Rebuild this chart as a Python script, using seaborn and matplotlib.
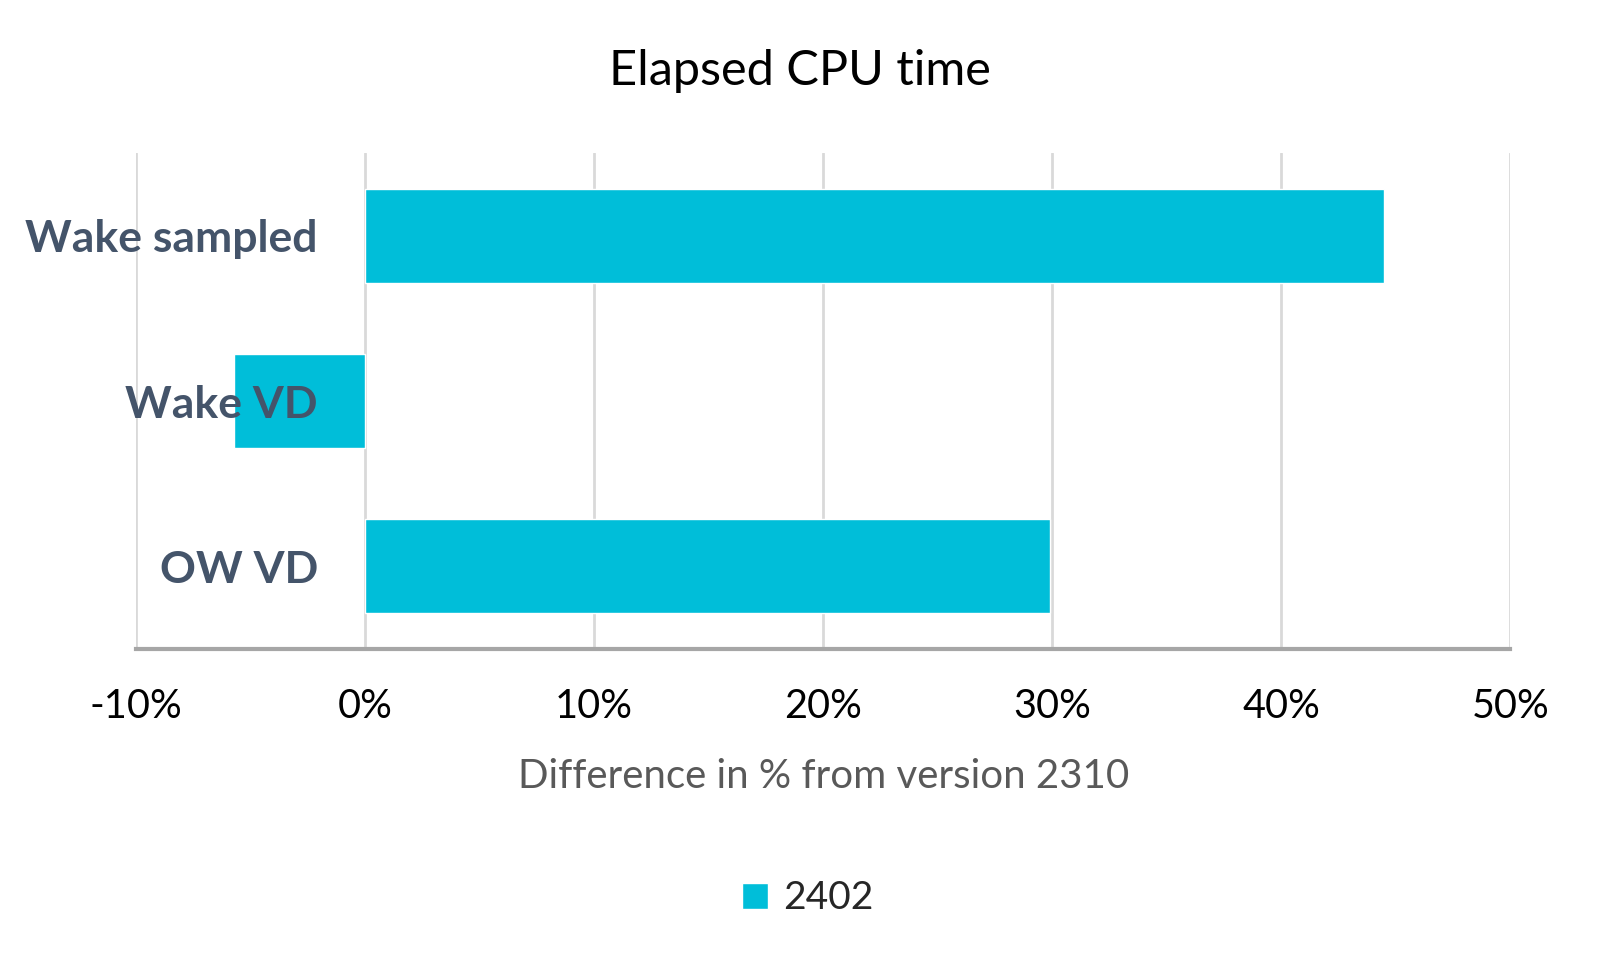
import pandas as pd
import seaborn as sns
import matplotlib.pyplot as plt
from matplotlib.ticker import FuncFormatter

categories = ["Wake sampled", "Wake VD", "OW VD"]
values = [44.5, -5.7, 29.9]
series_name = "2402"
x_ticks = [-10, 0, 10, 20, 30, 40, 50]

df = pd.DataFrame({"case": categories, "diff": values})

sns.set_theme(style="white")
plt.rcParams["font.family"] = ["Lato", "DejaVu Sans"]

fig = plt.figure(figsize=(16, 9.64), dpi=100)
ax = fig.add_axes([0.085, 0.327, 0.859, 0.514])

sns.barplot(data=df, x="diff", y="case", orient="h", color="#00BED9",
            width=0.57, saturation=1, label=series_name, ax=ax)

ax.set_xlim(-10, 50)
ax.set_ylim(2.5, -0.5)
ax.set_xticks(x_ticks)
ax.xaxis.set_major_formatter(FuncFormatter(lambda v, p: f"{v:.0f}%"))
ax.grid(axis="x", color="#D9D9D9", linewidth=2)
ax.set_axisbelow(True)
# y labels sit on top of the bars, like the original
ax.yaxis.set_zorder(3)
for s in ["top", "left", "right"]:
    ax.spines[s].set_visible(False)
ax.spines["bottom"].set_color("#A6A6A6")
ax.spines["bottom"].set_linewidth(3)

ax.tick_params(axis="x", length=0, pad=28, labelsize=28.5, labelcolor="black")
ax.tick_params(axis="y", length=0, pad=-131, labelsize=32, labelcolor="#44546A")
for t in ax.get_yticklabels():
    t.set_fontweight("bold")

ax.set_ylabel("")
ax.set_xlabel("Difference in % from version 2310", fontsize=29, color="#595959", labelpad=24)

# title centred on the whole chart, not the plot area
fig.text(0.5, 0.926, "Elapsed CPU time", fontsize=35, color="black", ha="center", va="center")

ax.legend(loc="center", bbox_to_anchor=(0.505, 0.068), bbox_transform=fig.transFigure,
          frameon=False, fontsize=28, handlelength=0.65, handleheight=0.65,
          handletextpad=0.4)

fig.savefig("out.png", dpi=100)
